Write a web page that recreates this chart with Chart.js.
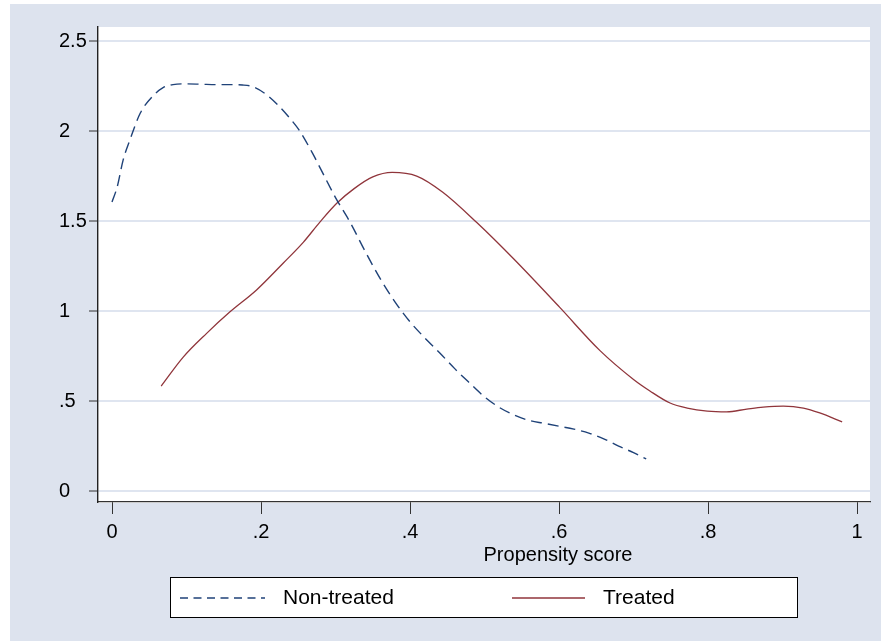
<!DOCTYPE html>
<html>
<head>
<meta charset="utf-8">
<script src="https://cdn.jsdelivr.net/npm/chart.js@4/dist/chart.umd.min.js"></script>
<style>
  html, body { margin: 0; padding: 0; background: #fff; }
</style>
</head>
<body>
<canvas id="densidad" width="881" height="641"></canvas>
<script>

    /*
     * Densidad de la puntuación de propensión: no tratados vs tratados
     */

    // Series
    const etiquetas = ['Non-treated', 'Treated'];

    const xNoTratados = [0, 0.007, 0.015, 0.024, 0.038, 0.055, 0.068, 0.082, 0.10, 0.12, 0.14, 0.16, 0.175, 0.19, 0.208, 0.225, 0.24, 0.252, 0.27, 0.28, 0.30, 0.32, 0.34, 0.36, 0.38, 0.40, 0.42, 0.44, 0.46, 0.48, 0.50, 0.52, 0.54, 0.56, 0.58, 0.60, 0.62, 0.64, 0.66, 0.68, 0.70, 0.717];
    const yNoTratados = [1.606, 1.69, 1.84, 1.95, 2.1, 2.195, 2.24, 2.258, 2.262, 2.26, 2.258, 2.258, 2.256, 2.245, 2.2, 2.135, 2.065, 2.0, 1.87, 1.79, 1.63, 1.49, 1.33, 1.18, 1.05, 0.94, 0.85, 0.767, 0.68, 0.60, 0.523, 0.464, 0.422, 0.392, 0.376, 0.36, 0.344, 0.322, 0.29, 0.25, 0.213, 0.178];

    const xTratados = [0.066, 0.0956, 0.127, 0.158, 0.194, 0.23, 0.257, 0.279, 0.302, 0.325, 0.35, 0.376, 0.409, 0.444, 0.49, 0.539, 0.601, 0.655, 0.70, 0.722, 0.749, 0.772, 0.799, 0.825, 0.852, 0.874, 0.901, 0.928, 0.95, 0.98];
    const yTratados = [0.583, 0.744, 0.876, 0.994, 1.117, 1.267, 1.383, 1.494, 1.6, 1.68, 1.745, 1.77, 1.75, 1.66, 1.49, 1.29, 1.02, 0.78, 0.62, 0.556, 0.489, 0.461, 0.444, 0.44, 0.455, 0.466, 0.472, 0.461, 0.434, 0.384];

    // Marcas de los ejes
    const xTicks = [0, 0.2, 0.4, 0.6, 0.8, 1];
    const xTickLabels = ['0', '.2', '.4', '.6', '.8', '1'];
    const yTicks = [0, 0.5, 1, 1.5, 2, 2.5];
    const yTickLabels = ['0', '.5', '1', '1.5', '2', '2.5'];
    const tituloX = 'Propensity score';

    // Colores estilo Stata s2color
    const colorFondo = '#dde3ee';
    const colorRejilla = '#dfe5f0';
    const colores = ['#1f4278', '#90353b'];
    const fuente = "Arial, 'Liberation Sans', sans-serif";

    // Fondo, título del eje x y leyenda con recuadro
    const decoracion = {
        id: 'decoracion',
        beforeDraw(chart) {
            const {ctx, chartArea: a, width, height} = chart;
            ctx.save();
            ctx.fillStyle = '#ffffff';
            ctx.fillRect(0, 0, width, height);
            ctx.fillStyle = colorFondo;
            ctx.fillRect(10, 4, width - 10, height - 4);
            ctx.fillStyle = '#ffffff';
            ctx.fillRect(a.left, a.top, a.right - a.left, a.bottom - a.top + 1);
            ctx.restore();
        },
        afterDraw(chart) {
            const ctx = chart.ctx;
            ctx.save();
            // título del eje x
            ctx.fillStyle = '#000';
            ctx.font = '20px ' + fuente;
            ctx.textAlign = 'center';
            ctx.textBaseline = 'middle';
            ctx.fillText(tituloX, 558, 555);

            // recuadro de la leyenda
            ctx.fillStyle = '#ffffff';
            ctx.fillRect(170, 577, 627, 40);
            ctx.strokeStyle = '#000';
            ctx.lineWidth = 1;
            ctx.strokeRect(170.5, 577.5, 627, 40);

            const items = [
                {x0: 180, x1: 265, tx: 283, dash: [8, 5.5]},
                {x0: 512, x1: 585, tx: 603, dash: []}
            ];
            ctx.font = '21px ' + fuente;
            ctx.textAlign = 'left';
            items.forEach((it, i) => {
                const ds = chart.data.datasets[i];
                ctx.beginPath();
                ctx.setLineDash(it.dash);
                ctx.strokeStyle = ds.borderColor;
                ctx.lineWidth = ds.borderWidth;
                ctx.moveTo(it.x0, 598);
                ctx.lineTo(it.x1, 598);
                ctx.stroke();
                ctx.setLineDash([]);
                ctx.fillStyle = '#000';
                ctx.fillText(ds.label, it.tx, 598);
            });
            ctx.restore();
        }
    };

    const datos = {
        datasets: [
            {
                label: etiquetas[0],
                data: xNoTratados.map((x, i) => ({x: x, y: yNoTratados[i]})),
                borderColor: colores[0],
                borderWidth: 1.4,
                borderDash: [11, 6],
                pointRadius: 0,
                cubicInterpolationMode: 'monotone',
                fill: false
            },
            {
                label: etiquetas[1],
                data: xTratados.map((x, i) => ({x: x, y: yTratados[i]})),
                borderColor: colores[1],
                borderWidth: 1.3,
                pointRadius: 0,
                cubicInterpolationMode: 'monotone',
                fill: false
            }
        ]
    };

    const opciones = {
        responsive: false,
        animation: false,
        devicePixelRatio: 1,
        layout: { padding: { left: 59, top: 27, right: 11, bottom: 99 } },
        plugins: {
            legend: { display: false },
            tooltip: { enabled: false }
        },
        scales: {
            x: {
                type: 'linear',
                min: -0.0188,
                max: 1.0174,
                afterBuildTicks: (s) => { s.ticks = xTicks.map(v => ({value: v})); },
                afterFit: (s) => { s.height = 40; },
                ticks: {
                    color: '#000',
                    font: { family: fuente, size: 20 },
                    padding: 6,
                    maxRotation: 0,
                    autoSkip: false,
                    callback: (v) => xTickLabels[xTicks.indexOf(v)]
                },
                grid: { drawOnChartArea: false, drawTicks: true, tickLength: 12, tickColor: '#333', tickWidth: 1 },
                border: { color: '#333', width: 1.2 }
            },
            y: {
                type: 'linear',
                min: -0.061,
                max: 2.578,
                afterBuildTicks: (s) => { s.ticks = yTicks.map(v => ({value: v})); },
                afterFit: (s) => { s.width = 39; },
                ticks: {
                    color: '#000',
                    font: { family: fuente, size: 20 },
                    crossAlign: 'far',
                    padding: 3,
                    autoSkip: false,
                    callback: (v) => yTickLabels[yTicks.indexOf(v)]
                },
                grid: { color: colorRejilla, lineWidth: 2, tickLength: 9, tickColor: '#333', tickWidth: 1 },
                border: { color: '#222', width: 1.4 }
            }
        }
    };

    // Represento la gráfica
    const ctx = document.getElementById('densidad').getContext('2d');
    const densidad = new Chart(ctx, {
        type: 'line',
        data: datos,
        options: opciones,
        plugins: [decoracion]
    });
</script>
</body>
</html>
